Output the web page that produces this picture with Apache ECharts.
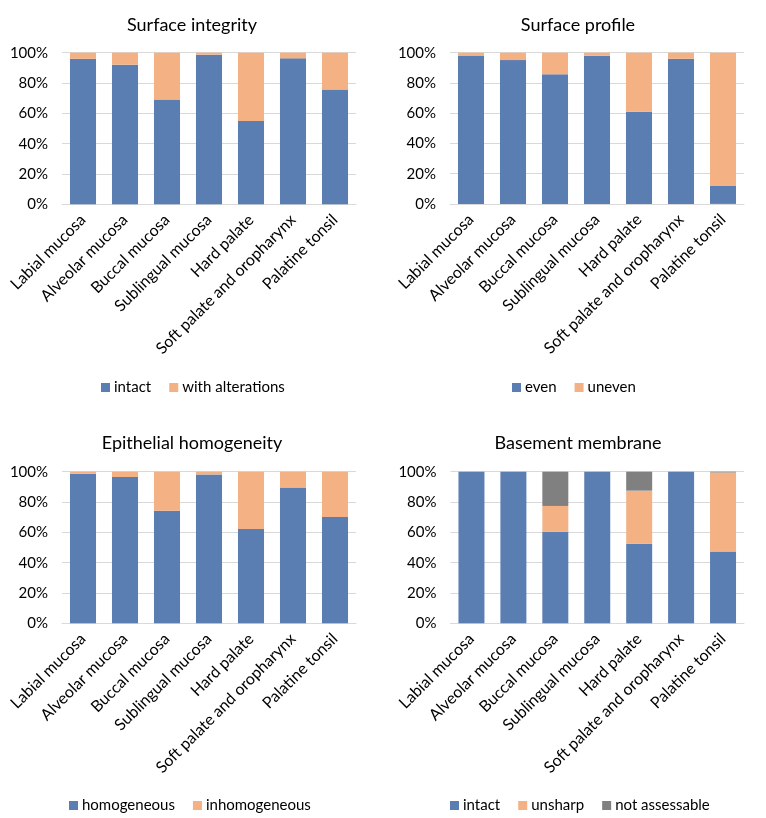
<!DOCTYPE html>
<html><head><meta charset="utf-8">
<script src="https://cdn.jsdelivr.net/npm/echarts@6/dist/echarts.min.js"></script>
<style>html,body{margin:0;padding:0;background:#fff}#c{width:766px;height:818px}</style>
</head><body><div id="c"></div>
<script>
const categories = ['Labial mucosa','Alveolar mucosa','Buccal mucosa','Sublingual mucosa','Hard palate','Soft palate and oropharynx','Palatine tonsil'];
const yTicks = [0,20,40,60,80,100];
const titles = ['Surface integrity','Surface profile','Epithelial homogeneity','Basement membrane'];

const integrityIntact = [96.0, 92.1, 69.2, 98.7, 54.9, 96.3, 75.8];
const integrityAltered = [4.0, 7.9, 30.8, 1.3, 45.1, 3.7, 24.2];
const profileEven = [97.8, 95.1, 85.7, 98.0, 60.9, 96.0, 11.9];
const profileUneven = [2.2, 4.9, 14.3, 2.0, 39.1, 4.0, 88.1];
const homogeneous = [98.7, 96.5, 74.3, 98.2, 62.2, 89.5, 70.1];
const inhomogeneous = [1.3, 3.5, 25.7, 1.8, 37.8, 10.5, 29.9];
const bmIntact = [100, 100, 60.4, 100, 52.5, 100, 47.3];
const bmUnsharp = [0, 0, 17.0, 0, 35.0, 0, 52.2];
const bmNotAssessable = [0, 0, 22.6, 0, 12.5, 0, 0.5];

const BLUE = '#5a7db2', ORANGE = '#f4b183', GRAY = '#808080';
const FONT = 'Lato';

const panels = [
  {grid:{left:62, top:52.7, width:294, height:151.6}, title:{x:187, y:11},
   legendLeft:96, legendTop:375,
   series:[['intact', integrityIntact, BLUE], ['with alterations', integrityAltered, ORANGE]]},
  {grid:{left:450, top:52.7, width:294, height:151.2}, title:{x:573, y:11},
   legendLeft:507, legendTop:375,
   series:[['even', profileEven, BLUE], ['uneven', profileUneven, ORANGE]]},
  {grid:{left:62, top:471.7, width:294, height:151.6}, title:{x:187, y:429},
   legendLeft:64, legendTop:793,
   series:[['homogeneous', homogeneous, BLUE], ['inhomogeneous', inhomogeneous, ORANGE]]},
  {grid:{left:450.5, top:471.7, width:293.5, height:151.6}, title:{x:573, y:429},
   legendLeft:445, legendTop:793,
   series:[['intact', bmIntact, BLUE], ['unsharp', bmUnsharp, ORANGE], ['not assessable', bmNotAssessable, GRAY]]}
];

const option = {
  animation:false,
  textStyle:{fontFamily:FONT},
  title: panels.map((p,i)=>({text:titles[i], left:p.title.x, top:p.title.y, textAlign:'center',
    textStyle:{fontFamily:FONT, fontSize:18, fontWeight:'normal', color:'#000'}})),
  legend: panels.map(p=>({left:p.legendLeft, top:p.legendTop, data:p.series.map(s=>s[0]),
    icon:'rect', itemWidth:9, itemHeight:9, itemGap:18, selectedMode:false,
    textStyle:{fontFamily:FONT, fontSize:15, color:'#000', padding:[0,0,0,-1]}})),
  grid: panels.map(p=>p.grid),
  xAxis: panels.map((p,i)=>({type:'category', gridIndex:i, data:categories,
    axisLine:{lineStyle:{color:'#d9d9d9'}}, axisTick:{show:false},
    axisLabel:{rotate:45, interval:0, margin:13, fontFamily:FONT, fontSize:16, color:'#000'}})),
  yAxis: panels.map((p,i)=>({type:'value', gridIndex:i, min:yTicks[0], max:yTicks[yTicks.length-1], interval:yTicks[1]-yTicks[0],
    axisLine:{show:false}, axisTick:{show:false},
    splitLine:{lineStyle:{color:'#d9d9d9'}},
    axisLabel:{formatter:'{value}%', margin:14, fontFamily:FONT, fontSize:15, color:'#000'}})),
  series: []
};
panels.forEach((p,i)=>{
  p.series.forEach(s=>{
    option.series.push({type:'bar', name:s[0], stack:'s'+i, xAxisIndex:i, yAxisIndex:i,
      data:s[1], barWidth:'62%', itemStyle:{color:s[2]}});
  });
});
const chart = echarts.init(document.getElementById('c'));
chart.setOption(option);
</script></body></html>
